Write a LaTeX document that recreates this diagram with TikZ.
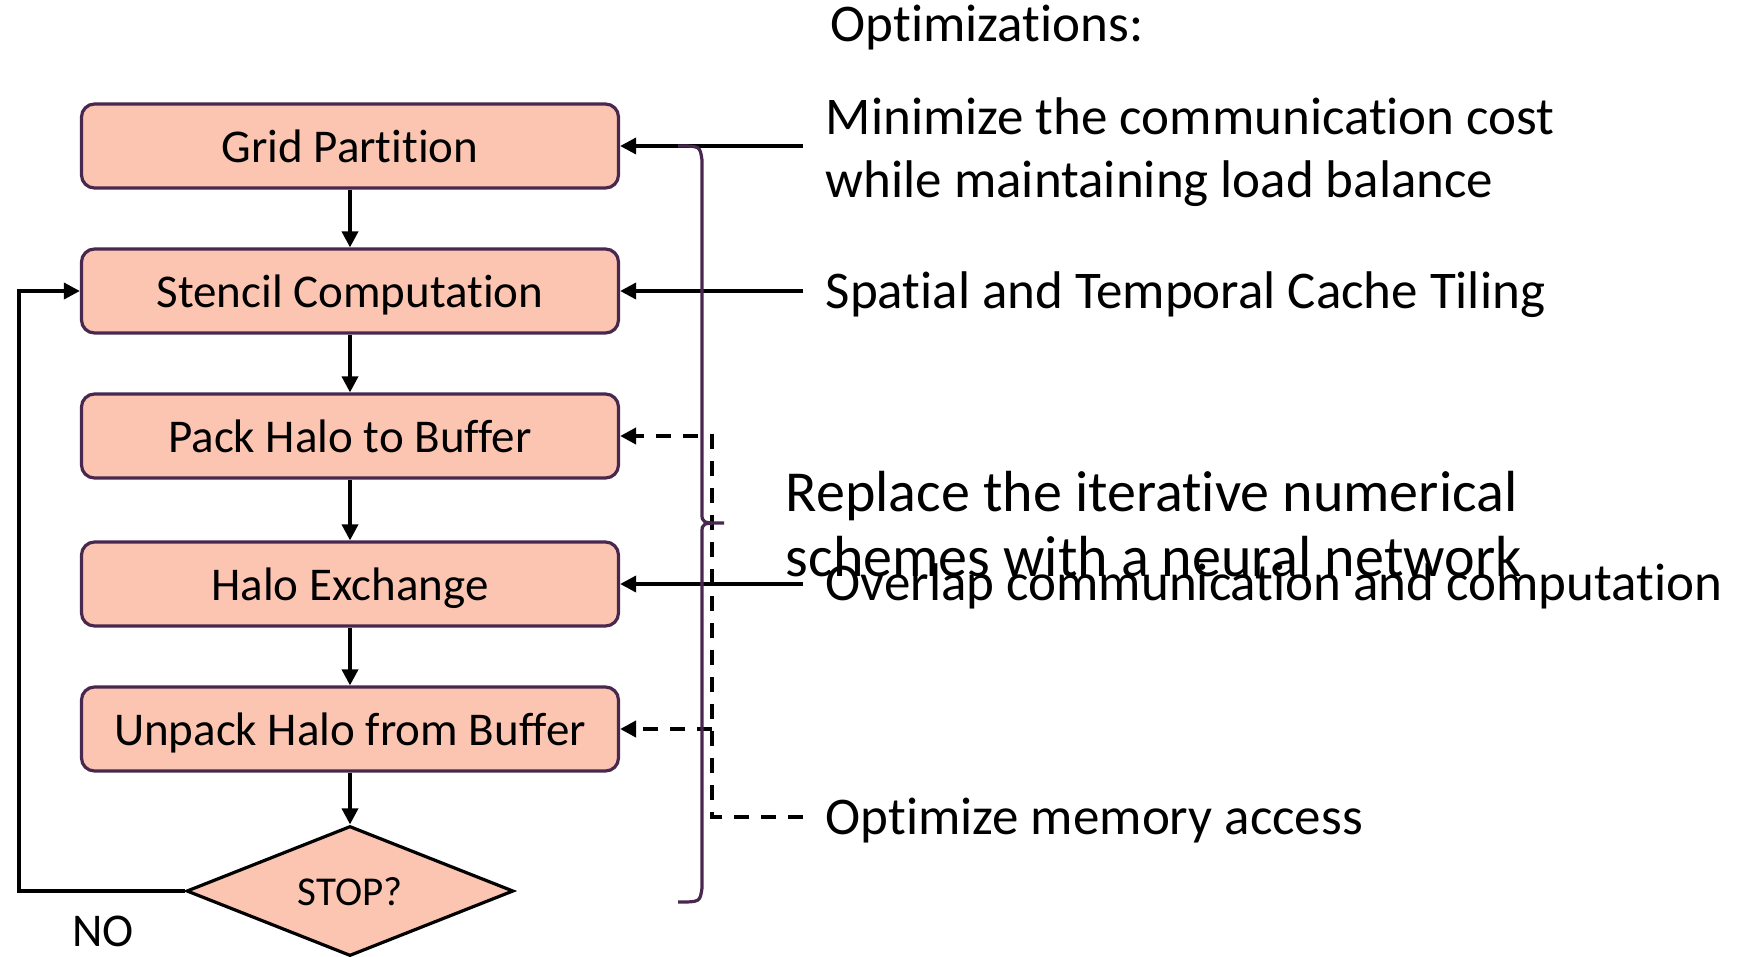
\documentclass[tikz,border=0pt]{standalone}
\usepackage{fontspec}
\setmainfont[Ligatures=NoCommon]{Carlito}
\usepackage{tikz}
\usetikzlibrary{arrows.meta, positioning, shapes.geometric}
\definecolor{boxfill}{RGB}{251,197,177}
\definecolor{boxline}{RGB}{72,40,78}

\begin{document}
\begin{tikzpicture}[x=1pt, y=-1pt, line width=3.6pt, >={Triangle[length=16pt,width=16pt]},
  flowbox/.style={draw=boxline, line width=3.2pt, fill=boxfill, rounded corners=13pt,
    minimum width=537pt, minimum height=84pt, inner sep=0pt, text height=35pt, text depth=3pt,
    font=\fontsize{47}{56}\selectfont},
  optlabel/.style={anchor=base west, inner xsep=21pt, inner ysep=0pt,
    font=\fontsize{53}{63}\selectfont},
  dline/.style={line width=4.2pt, dash pattern=on 15pt off 12pt}]
  \useasboundingbox (0,0) rectangle (1742,956);

  % Flow
  \node[flowbox] (grid)    at (350,146) {Grid Partition};
  \node[flowbox] (stencil) at (350,291) {Stencil Computation};
  \node[flowbox] (pack)    at (350,436) {Pack Halo to Buffer};
  \node[flowbox] (halo)    at (350,584) {Halo Exchange};
  \node[flowbox] (unpack)  at (350,729) {Unpack Halo from Buffer};
  \node[diamond, draw, line width=3.2pt, fill=boxfill, shape aspect=2.5, minimum width=327pt,
    minimum height=130pt, inner sep=0pt, text height=31pt, text depth=3pt,
    font=\fontsize{41}{49}\selectfont] (stop) at (350,891) {STOP?};
  \draw[->] (grid) -- (stencil);
  \draw[->] (stencil) -- (pack);
  \draw[->] (pack) -- (halo);
  \draw[->] (halo) -- (unpack);
  \draw[->] (unpack) -- (stop);
  \coordinate (loop) at (19,891);
  \draw[->] (stop.west) -- (loop) |- (stencil.west);
  \node[anchor=base, inner sep=0pt, font=\fontsize{47}{56}\selectfont] (no) at (103,946) {NO};

  % Optimizations
  \node[anchor=base west, inner sep=0pt, font=\fontsize{53}{63}\selectfont] (title) at (829,41) {Optimizations:};
  \node[anchor=west, inner xsep=21pt, inner ysep=0pt, align=left, font=\fontsize{53}{63}\selectfont]
    (minim) at (803,152) {Minimize the communication cost\\while maintaining load balance};
  \node[optlabel] (tiling)  at (803,308) {Spatial and Temporal Cache Tiling};
  \node[optlabel] (overlap) at (803,600) {Overlap communication and computation};
  \node[optlabel] (memory)  at (803,834) {Optimize memory access};
  \node[anchor=west, inner sep=0pt, align=left, font=\fontsize{58}{65}\selectfont] (neural) at (784,524)
    {Replace the iterative numerical\\schemes with a neural network};
  \draw[->] (grid.east -| minim.west) -- (grid.east);
  \draw[->] (stencil.east -| tiling.west) -- (stencil.east);
  \draw[->] (halo.east -| overlap.west) -- (halo.east);
  \coordinate (dtop) at (712,436);
  \coordinate (dbot) at (712,817);
  \draw[dline, ->] (dbot -| memory.west) -- (dbot) -- (dtop) -- (pack.east);
  \draw[dline, ->] (dtop |- unpack.east) -- (unpack.east);

  % Brace
  \draw[boxline, line width=3.2pt] (678,146) .. controls (700,146) .. (702,160) -- (702,513)
    .. controls (702,523) .. (724,523) .. controls (702,523) .. (702,533) -- (702,888)
    .. controls (700,902) .. (678,902);
\end{tikzpicture}
\end{document}
